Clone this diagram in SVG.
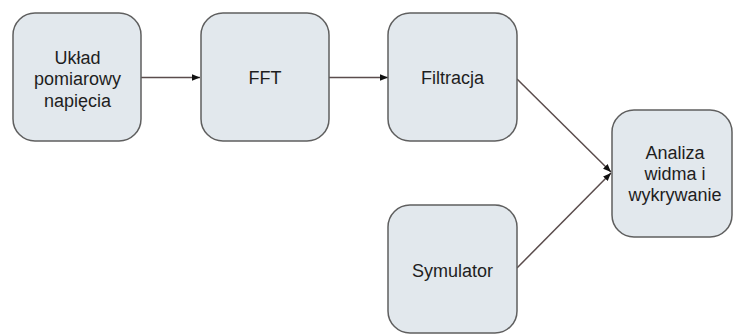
<svg xmlns="http://www.w3.org/2000/svg" width="733" height="334" viewBox="0 0 733 334">
<defs>
<style>
.box{fill:#e2e8ed;stroke:#5f5f5f;stroke-width:1.5}
.lbl{font-family:"Liberation Sans",Arial,sans-serif;font-size:18px;fill:#1e1e1e;text-anchor:middle}
.con{fill:none;stroke:#5a4c4c;stroke-width:1.5}
</style>
<marker id="ah" viewBox="0 0 10 10" refX="10" refY="5" markerWidth="8" markerHeight="8" markerUnits="userSpaceOnUse" orient="auto">
<path d="M0,1 L10,5 L0,9 Z" fill="#111"/>
</marker>
</defs>
<rect width="733" height="334" fill="#ffffff"/>
<g id="connectors">
<line class="con" x1="141" y1="77.5" x2="200" y2="77.5" marker-end="url(#ah)"/>
<line class="con" x1="329" y1="77.5" x2="388" y2="77.5" marker-end="url(#ah)"/>
<line class="con" x1="517" y1="79" x2="611" y2="172" marker-end="url(#ah)"/>
<line class="con" x1="517" y1="268" x2="611" y2="173" marker-end="url(#ah)"/>
</g>
<g id="uklad">
<rect class="box" x="13" y="13" width="128" height="128" rx="22"/>
<text class="lbl" x="77.5" y="63.5">Układ</text>
<text class="lbl" x="77.5" y="85">pomiarowy</text>
<text class="lbl" x="77.5" y="106.5">napięcia</text>
</g>
<g id="fft">
<rect class="box" x="201" y="13" width="128" height="128" rx="22"/>
<text class="lbl" x="265" y="84">FFT</text>
</g>
<g id="filtracja">
<rect class="box" x="388" y="13" width="129" height="128" rx="22"/>
<text class="lbl" x="452.5" y="84">Filtracja</text>
</g>
<g id="analiza">
<rect class="box" x="612" y="110" width="120" height="127" rx="22"/>
<text class="lbl" x="675" y="159">Analiza</text>
<text class="lbl" x="675" y="180">widma i</text>
<text class="lbl" x="675" y="201">wykrywanie</text>
</g>
<g id="symulator">
<rect class="box" x="388" y="205" width="129" height="128" rx="22"/>
<text class="lbl" x="452.5" y="276.5">Symulator</text>
</g>
</svg>
